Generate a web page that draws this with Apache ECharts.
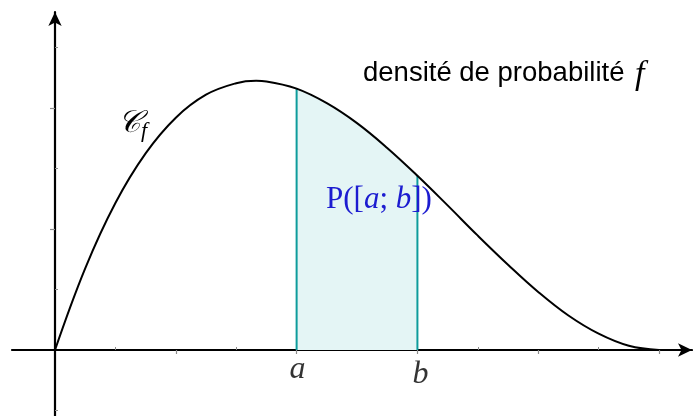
<!DOCTYPE html>
<html>
<head>
<meta charset="utf-8">
<script src="https://cdn.jsdelivr.net/npm/echarts@6/dist/echarts.min.js"></script>
<style>
  html, body { margin: 0; padding: 0; background: #fff; }
  #chart { width: 693px; height: 416px; }
</style>
</head>
<body>
<div id="chart"></div>
<script>
// values (x in tick units, y in tick units)
const xValues = [0, 0.5, 1, 1.5, 2, 2.5, 3, 3.33, 3.5, 4, 4.5, 5, 5.5, 6, 6.5, 7, 7.5, 8, 8.5, 9, 9.5, 10];
const density = [0, 1.35, 2.43, 3.25, 3.84, 4.22, 4.41, 4.45, 4.44, 4.32, 4.08, 3.75, 3.34, 2.88, 2.39, 1.89, 1.41, 0.96, 0.57, 0.27, 0.07, 0];
const boundA = 4;
const boundB = 6;
const boundLabels = ['a', 'b'];
const xMajorTicks = [2, 4, 6, 8, 10];
const xMinorTicks = [1, 3, 5, 7, 9];
const yMajorTicks = [2, 4];
const yMinorTicks = [-1, 1, 3, 5];

const curve = xValues.map((x, i) => [x, density[i]]);
const shaded = curve.filter(p => p[0] >= boundA && p[0] <= boundB);
const fAt = x => density[xValues.indexOf(x)];

const teal = '#0e9c9c';
const tickColor = '#8a8a8a';

const chart = echarts.init(document.getElementById('chart'), null, { renderer: 'canvas' });

const xRange = { min: -0.712, max: 10.546 };
const yRange = { min: -1.091, max: 5.587 };

chart.setOption({
  animation: false,
  grid: { left: 12, right: 1, top: 12, bottom: 0, containLabel: false, outerBoundsMode: 'none' },
  xAxis: [
    {
      type: 'value', ...xRange,
      axisLine: { onZero: true, symbol: ['none', 'arrow'], symbolSize: [10, 14], lineStyle: { color: '#000', width: 2.2 } },
      axisTick: { customValues: xMajorTicks, length: 4, lineStyle: { color: tickColor, width: 1.2 } },
      axisLabel: { show: false },
      splitLine: { show: false }
    },
    {
      type: 'value', ...xRange,
      axisLine: { show: false, onZero: true },
      axisTick: { customValues: xMinorTicks, length: 3, lineStyle: { color: tickColor, width: 1 } },
      axisLabel: { show: false },
      splitLine: { show: false }
    }
  ],
  yAxis: [
    {
      type: 'value', ...yRange,
      axisLine: { onZero: true, symbol: ['none', 'arrow'], symbolSize: [10, 14], lineStyle: { color: '#000', width: 2.2 } },
      axisTick: { customValues: yMajorTicks, length: 5, lineStyle: { color: tickColor, width: 1.2 } },
      axisLabel: { show: false },
      splitLine: { show: false }
    },
    {
      type: 'value', ...yRange,
      axisLine: { show: false, onZero: true },
      axisTick: { customValues: yMinorTicks, length: 3, lineStyle: { color: tickColor, width: 1 } },
      axisLabel: { show: false },
      splitLine: { show: false }
    }
  ],
  series: [
    {
      name: 'area', type: 'line', data: shaded, smooth: 0.4, symbol: 'none',
      lineStyle: { width: 0 },
      areaStyle: { color: '#e4f5f5', opacity: 1 },
      z: 1
    },
    {
      name: 'lineA', type: 'line', data: [[boundA, 0], [boundA, fAt(boundA)]], symbol: 'none',
      lineStyle: { color: teal, width: 2 }, z: 2
    },
    {
      name: 'lineB', type: 'line', data: [[boundB, 0], [boundB, fAt(boundB)]], symbol: 'none',
      lineStyle: { color: teal, width: 2 }, z: 2
    },
    {
      name: 'f', type: 'line', data: curve, smooth: 0.4, symbol: 'none',
      lineStyle: { color: '#000', width: 2 }, z: 3
    },
    {
      name: 'bounds', type: 'scatter', symbolSize: 0, silent: true,
      data: [
        { value: [boundA, 0], label: { offset: [1, 2] } },
        { value: [boundB, 0], label: { offset: [3, 7] } }
      ],
      label: {
        show: true, position: 'bottom', distance: 2,
        formatter: p => boundLabels[p.dataIndex],
        fontFamily: 'Liberation Serif', fontStyle: 'italic', fontSize: 32, color: '#000'
      }
    }
  ],
  graphic: [
    {
      type: 'text', left: 363, top: 59, z: 100,
      style: { text: 'densité de probabilité', font: '27.5px "Liberation Sans", Arial, sans-serif', fill: '#000' }
    },
    {
      type: 'text', left: 635, top: 58, z: 100,
      style: { text: 'f', font: 'italic 34px "Liberation Serif", serif', fill: '#000' }
    },
    {
      type: 'text', left: 326, top: 184, z: 100,
      style: {
        text: '{n|P([}{i|a}{n|; }{i|b}{n|])}',
        rich: {
          n: { fontFamily: 'Liberation Serif', fontSize: 31, fill: '#1c1cd0' },
          i: { fontFamily: 'Liberation Serif', fontStyle: 'italic', fontSize: 31, fill: '#1c1cd0' }
        }
      }
    },
    {
      type: 'text', left: 118, top: 108, z: 100,
      style: {
        text: '{c|𝒞}{s|f}',
        rich: {
          c: { fontFamily: 'DejaVu Serif', fontStyle: 'italic', fontSize: 31, fill: '#000' },
          s: { fontFamily: 'Liberation Serif', fontStyle: 'italic', fontSize: 22, fill: '#000', padding: [16, 0, 0, 0] }
        }
      }
    }
  ]
});
</script>
</body>
</html>
